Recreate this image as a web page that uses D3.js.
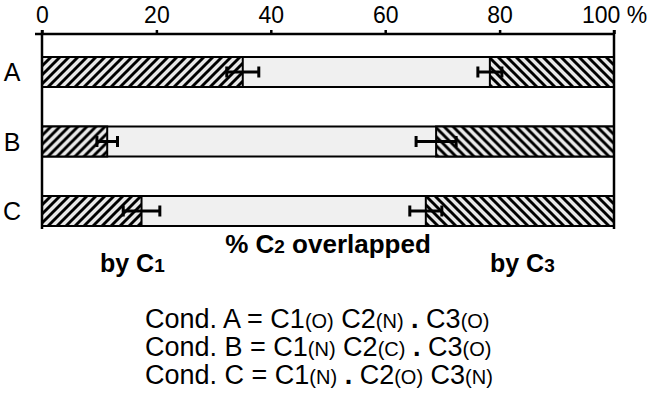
<!DOCTYPE html>
<html>
<head>
<meta charset="utf-8">
<script src="https://cdn.jsdelivr.net/npm/d3@7"></script>
<style>
  body { margin: 0; background: #fff; }
  text { font-family: "Liberation Sans", Arial, sans-serif; fill: #000; }
</style>
</head>
<body>
<div id="canvas"></div>
<script>
// Data
var categories = ["A", "B", "C"]
var by_c1 = [35.1, 11.4, 17.4]          // % overlapped by C1 (left, hatched /)
var by_c1_err = [2.8, 1.8, 3.2]
var by_c3 = [21.7, 31.1, 32.9]          // % overlapped by C3 (right, hatched \)
var by_c3_err = [2.1, 3.5, 2.8]
var tick_values = [0, 20, 40, 60, 80, 100]
var tick_labels = ["0", "20", "40", "60", "80", "100 %"]
var cond_lines = [
  [["Cond. A = C1", 0], ["(O)", 1], [" C2", 0], ["(N)", 1], [" ", 0], [".", 2], [" C3", 0], ["(O)", 1]],
  [["Cond. B = C1", 0], ["(N)", 1], [" C2", 0], ["(C)", 1], [" ", 0], [".", 2], [" C3", 0], ["(O)", 1]],
  [["Cond. C = C1", 0], ["(N)", 1], [" ", 0], [".", 2], [" C2", 0], ["(O)", 1], [" C3", 0], ["(N)", 1]]
]

// Display variables
var total_width = 653, total_height = 403
var margin = {left: 42, top: 34}
var width = 572
var bar_h = 30

var svg = d3.select("#canvas").append("svg").attr("width", total_width).attr("height", total_height)

var x = d3.scaleLinear().domain([0, 100]).range([margin.left, margin.left + width])
var y = d3.scalePoint().domain(categories).range([72, 211])

// Hatch patterns
var defs = svg.append("defs")
function hatch(id, dir) {
  var p = defs.append("pattern").attr("id", id).attr("patternUnits", "userSpaceOnUse")
      .attr("width", 9).attr("height", 9)
  p.append("rect").attr("width", 9).attr("height", 9).attr("fill", "#e8e8e8")
  var d = dir > 0 ? "M-2,2 L2,-2 M0,9 L9,0 M7,11 L11,7" : "M-2,7 L2,11 M0,0 L9,9 M7,-2 L11,2"
  p.append("path").attr("d", d).attr("stroke", "#000").attr("stroke-width", 2.9)
}
hatch("hatch_fwd", 1)
hatch("hatch_back", -1)

// Top axis
var axis = svg.append("g").attr("transform", "translate(0," + margin.top + ")")
    .call(d3.axisTop(x).tickValues(tick_values).tickFormat((d, i) => tick_labels[i]).tickSize(4))
axis.select(".domain").remove()
axis.selectAll(".tick line").attr("stroke", "#000").attr("stroke-width", 2.5)
axis.selectAll(".tick text").attr("font-size", 23).attr("y", -11).attr("dy", 0)
    .attr("font-family", "Liberation Sans, Arial, sans-serif")
svg.append("line").attr("x1", margin.left - 7).attr("x2", x(100) + 1).attr("y1", margin.top).attr("y2", margin.top)
    .attr("stroke", "#000").attr("stroke-width", 2.5)

// Bars
var rows = svg.append("g").selectAll("g").data(categories).enter().append("g")
    .attr("transform", d => "translate(0," + y(d) + ")")
rows.append("rect").attr("x", x(0)).attr("y", -bar_h / 2).attr("width", x(100) - x(0)).attr("height", bar_h)
    .attr("fill", "#f0f0f0").attr("stroke", "#000").attr("stroke-width", 2)
rows.append("rect").attr("x", x(0)).attr("y", -bar_h / 2).attr("width", (d, i) => x(by_c1[i]) - x(0)).attr("height", bar_h)
    .attr("fill", "url(#hatch_fwd)").attr("stroke", "#000").attr("stroke-width", 2)
rows.append("rect").attr("x", (d, i) => x(100 - by_c3[i])).attr("y", -bar_h / 2)
    .attr("width", (d, i) => x(100) - x(100 - by_c3[i])).attr("height", bar_h)
    .attr("fill", "url(#hatch_back)").attr("stroke", "#000").attr("stroke-width", 2)

// Error bars
function err_bar(center, err) {
  rows.each(function(d, i) {
    var g = d3.select(this)
    var lo = x(center(i) - err[i]), hi = x(center(i) + err[i])
    g.append("line").attr("x1", lo).attr("x2", hi).attr("y1", 0).attr("y2", 0).attr("stroke", "#000").attr("stroke-width", 3)
    g.append("line").attr("x1", lo).attr("x2", lo).attr("y1", -5.5).attr("y2", 5.5).attr("stroke", "#000").attr("stroke-width", 3)
    g.append("line").attr("x1", hi).attr("x2", hi).attr("y1", -5.5).attr("y2", 5.5).attr("stroke", "#000").attr("stroke-width", 3)
  })
}
err_bar(i => by_c1[i], by_c1_err)
err_bar(i => 100 - by_c3[i], by_c3_err)

// Category labels
rows.append("text").attr("x", 12).attr("dy", "0.36em").attr("text-anchor", "middle").attr("font-size", 25).text(d => d)

// Frame verticals
svg.append("line").attr("x1", x(0)).attr("x2", x(0)).attr("y1", margin.top - 4).attr("y2", 229).attr("stroke", "#000").attr("stroke-width", 2.5)
svg.append("line").attr("x1", x(100)).attr("x2", x(100)).attr("y1", margin.top - 4).attr("y2", 229).attr("stroke", "#000").attr("stroke-width", 2.5)

// Axis titles
function rich(t, parts, small) {
  parts.forEach(p => {
    var ts = t.append("tspan").text(p[0])
    if (p[1] == 1) ts.attr("font-size", small)
    if (p[1] == 2) ts.attr("font-weight", "bold")
  })
}
var t1 = svg.append("text").attr("x", 328).attr("y", 253).attr("text-anchor", "middle")
    .attr("font-size", 26).attr("font-weight", "bold")
rich(t1, [["% C", 0], ["2", 1], [" overlapped", 0]], 19)
var t2 = svg.append("text").attr("x", 100).attr("y", 272).attr("font-size", 25).attr("font-weight", "bold")
rich(t2, [["by C", 0], ["1", 1]], 19)
var t3 = svg.append("text").attr("x", 490).attr("y", 272).attr("font-size", 25).attr("font-weight", "bold")
rich(t3, [["by C", 0], ["3", 1]], 19)

// Condition legend
cond_lines.forEach((parts, i) => {
  var t = svg.append("text").attr("x", 145).attr("y", 328 + i * 28).attr("font-size", 27)
  rich(t, parts, 20)
})
</script>
</body>
</html>
